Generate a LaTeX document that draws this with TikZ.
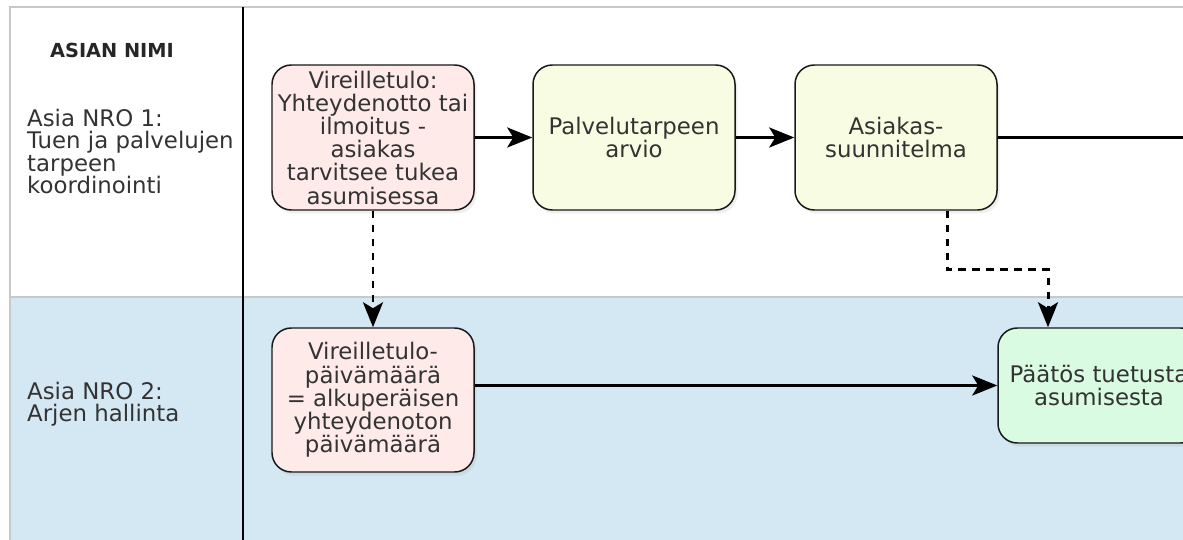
\documentclass[tikz,border=0pt]{standalone}
\usepackage{fontspec}
\setmainfont{DejaVu Sans}
\usetikzlibrary{
  positioning,
  arrows.meta,
  shadows
}
\definecolor{lanegrey}{HTML}{C8C8C8}
\definecolor{laneblue}{HTML}{D3E8F3}
\definecolor{startpink}{HTML}{FFEAEA}
\definecolor{stepyellow}{HTML}{F8FCE2}
\definecolor{endgreen}{HTML}{D9FBE2}
\definecolor{inktext}{HTML}{333333}

\begin{document}
\begin{tikzpicture}[
  font=\fontsize{13}{13.2}\selectfont,
  box/.style={draw=black!90, line width=0.85pt, rounded corners=11pt, text=inktext,
              minimum width=4.04cm, minimum height=2.9cm, align=center, inner sep=1pt,
              drop shadow={opacity=0.13, shadow xshift=0.05cm, shadow yshift=-0.07cm}},
  lane/.style={draw=lanegrey, line width=0.6pt},
  lanelabel/.style={anchor=west, align=left, text=inktext, font=\fontsize{13}{12.6}\selectfont},
  arr/.style={-{Stealth[length=0.5cm, width=0.4cm, inset=0.12cm]}, line width=1.7pt},
  dasharr/.style={arr, dash pattern=on 0.15cm off 0.13cm}
]
  \clip (0,0) rectangle (23.66,-10.8);

  % Lanes
  \draw[lane] (0.2,-0.14) rectangle (24,-5.94);
  \draw[lane, fill=laneblue] (0.2,-5.94) rectangle (24,-11);
  \draw[line width=0.9pt] (4.86,-0.14) -- (4.86,-11);

  \node[font=\fontsize{11}{11}\selectfont\bfseries, text=black!85] (title) at (2.24,-1.0) {ASIAN NIMI};
  \node[lanelabel] (lane1) at (0.42,-3.03) {Asia NRO 1:\\Tuen ja palvelujen\\tarpeen\\koordinointi};
  \node[lanelabel] (lane2) at (0.42,-8.08) {Asia NRO 2:\\Arjen hallinta};

  % Asia NRO 1
  \node[box, fill=startpink] (vireille) at (7.46,-2.75) {Vireilletulo:\\Yhteydenotto tai\\ilmoitus -\\asiakas\\tarvitsee tukea\\asumisessa};
  \node[box, fill=stepyellow] (arvio) at (12.68,-2.75) {Palvelutarpeen\\arvio};
  \node[box, fill=stepyellow] (suunnitelma) at (17.92,-2.75) {Asiakas-\\suunnitelma};
  \coordinate (offright) at (24,-2.75);

  % Asia NRO 2
  \node[box, fill=startpink, minimum height=2.88cm] (pvm) at (7.46,-8.0) {Vireilletulo-\\päivämäärä\\= alkuperäisen\\yhteydenoton\\päivämäärä};
  \node[box, fill=endgreen, minimum height=2.3cm] (paatos) at (21.98,-7.71) {Päätös tuetusta\\asumisesta};

  \draw[arr] (vireille) -- (arvio);
  \draw[arr] (arvio) -- (suunnitelma);
  \draw[line width=1.7pt] (suunnitelma) -- (offright);
  \draw[dasharr] (vireille) -- (pvm);
  \draw[dasharr] ([xshift=1.02cm]suunnitelma.south) -- ++(0,-1.18) -| ([xshift=-1.02cm]paatos.north);
  \draw[arr] (pvm.east |- paatos.west) -- (paatos.west);
\end{tikzpicture}
\end{document}
